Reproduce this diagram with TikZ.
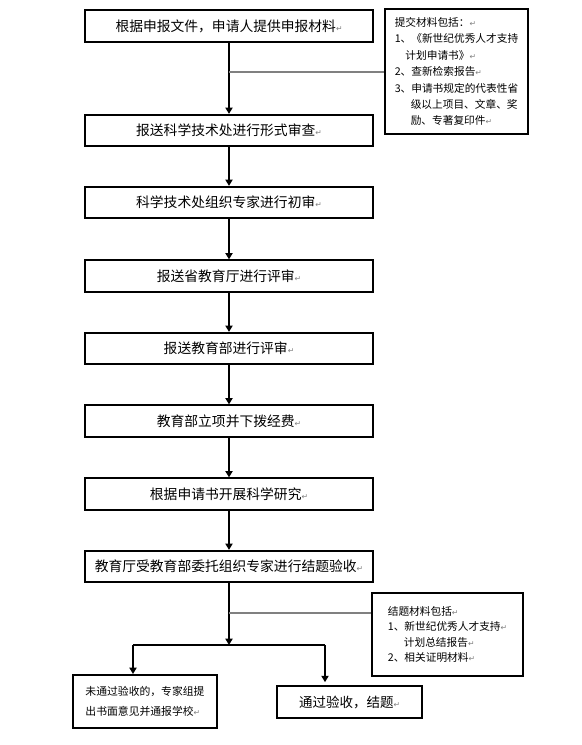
\documentclass[tikz,border=0pt]{standalone}
\usepackage{fontspec}
\usepackage{tikz}
\usetikzlibrary{arrows.meta}
\usepackage{xcolor}
\newfontfamily\cjkfont{Noto Sans CJK SC}
\newfontfamily\markfont{DejaVu Sans}
\newcommand{\pmark}{{\markfont\fontsize{5.5}{6}\selectfont\textcolor{gray}{↵}}}

\begin{document}
\begin{tikzpicture}[
    x=0.025cm, y=-0.025cm,
    stage/.style={draw, line width=1.4pt, minimum width=7.2cm, minimum height=0.78cm, inner sep=0pt, font=\cjkfont\fontsize{9.8}{12}\selectfont},
    note/.style={draw, line width=1.4pt, align=left, inner sep=0pt, font=\cjkfont\fontsize{7.6}{11.7}\selectfont},
    result/.style={draw, line width=1.4pt, align=left, inner sep=0pt},
    arrow/.style={-{Triangle[length=4.5pt,width=5pt]}, line width=1.4pt},
    link/.style={draw=gray, line width=1pt}
]
\useasboundingbox (0,0) rectangle (581,745);

\node[stage] (s1) at (229, 26) {根据申报文件，申请人提供申报材料\pmark};
\node[stage] (s2) at (229, 130.5) {报送科学技术处进行形式审查\pmark};
\node[stage] (s3) at (229, 202.5) {科学技术处组织专家进行初审\pmark};
\node[stage] (s4) at (229, 276) {报送省教育厅进行评审\pmark};
\node[stage] (s5) at (229, 348.5) {报送教育部进行评审\pmark};
\node[stage] (s6) at (229, 421) {教育部立项并下拨经费\pmark};
\node[stage] (s7) at (229, 494) {根据申请书开展科学研究\pmark};
\node[stage] (s8) at (229, 566.5) {教育厅受教育部委托组织专家进行结题验收\pmark};

\node[note, minimum width=3.575cm, minimum height=3.125cm] (n1) at (456.5, 71.5) {%
提交材料包括：\pmark\\
1、《新世纪优秀人才支持\\
\hspace*{1em}计划申请书》\pmark\\
2、查新检索报告\pmark\\
3、申请书规定的代表性省\\
\hspace*{1.5em}级以上项目、文章、奖\\
\hspace*{1.5em}励、专著复印件\pmark};

\node[note, minimum width=3.775cm, minimum height=2.075cm, font=\cjkfont\fontsize{7.6}{11.1}\selectfont] (n2) at (447.5, 634.5) {%
结题材料包括\pmark\\
1、新世纪优秀人才支持\pmark\\
\hspace*{1.5em}计划总结报告\pmark\\
2、相关证明材料\pmark};

\node[result, minimum width=3.6cm, minimum height=1.325cm, font=\cjkfont\fontsize{7.7}{14}\selectfont] (r1) at (145, 701.5) {%
未通过验收的，专家组提\\
出书面意见并通报学校\pmark};
\node[result, minimum width=3.625cm, minimum height=0.8cm, font=\cjkfont\fontsize{9.6}{12}\selectfont] (r2) at (349.5, 702) {通过验收，结题\pmark};

% junctions on the main line
\coordinate (j1) at (229, 72);
\coordinate (j2) at (229, 613);
\coordinate (split) at (229, 645);
\coordinate (sl) at (133, 645);
\coordinate (sr) at (325, 645);

\draw[arrow] (s1) -- (s2);
\draw[arrow] (s2) -- (s3);
\draw[arrow] (s3) -- (s4);
\draw[arrow] (s4) -- (s5);
\draw[arrow] (s5) -- (s6);
\draw[arrow] (s6) -- (s7);
\draw[arrow] (s7) -- (s8);
\draw[arrow] (s8) -- (split);
\draw[line width=1.4pt] (sl) -- (sr);
\draw[arrow] (sl) -- (sl |- r1.north);
\draw[arrow, shorten >=2pt] (sr) -- (sr |- r2.north);

\draw[link] (j1) -- (j1 -| n1.west);
\draw[link] (j2) -- (j2 -| n2.west);
\end{tikzpicture}
\end{document}
